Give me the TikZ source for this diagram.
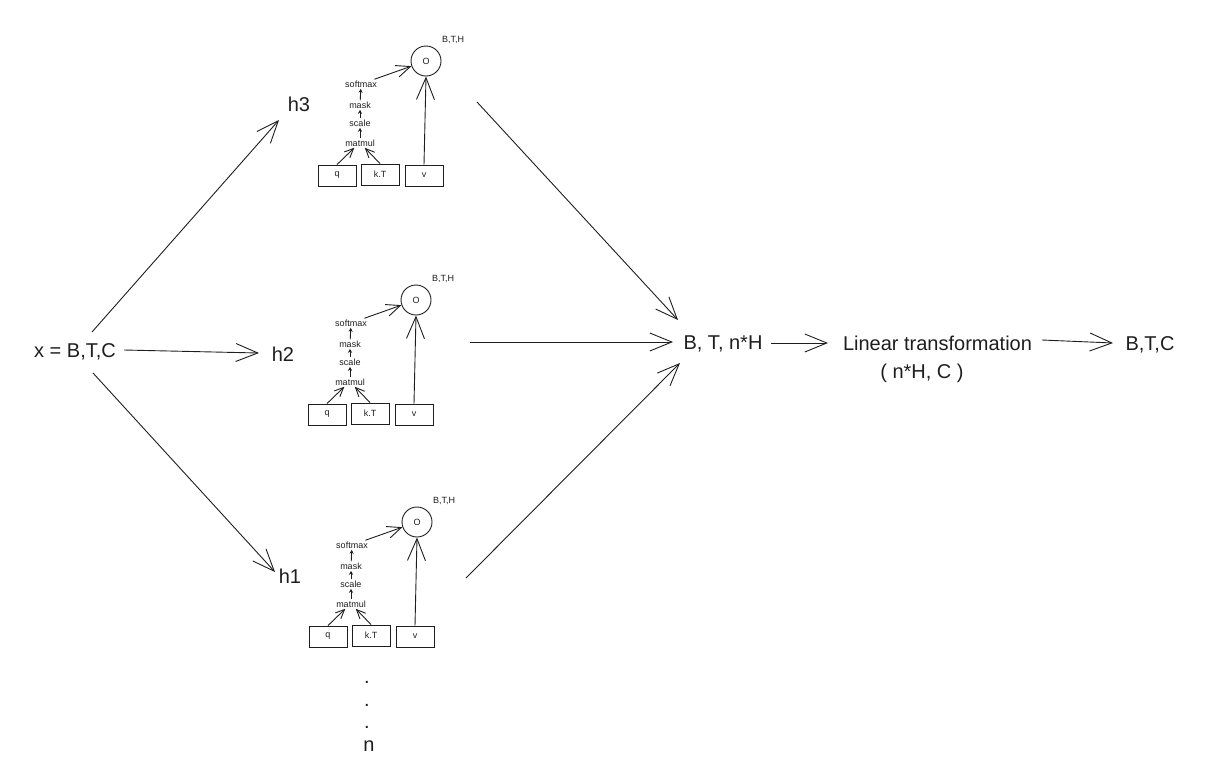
\documentclass[tikz,border=0pt]{standalone}
\usepackage{fontspec}
\setmainfont{Liberation Sans}
\usetikzlibrary{arrows.meta}
\definecolor{ink}{HTML}{1E1E1E}

\begin{document}
\begin{tikzpicture}[x=1pt,y=-1pt,line width=0.9pt,draw=ink,
    big/.style={font=\fontsize{20}{24}\selectfont,text=ink,anchor=base},
    small/.style={font=\fontsize{9}{11}\selectfont,text=ink,inner sep=1pt},
    box/.style={small,draw,minimum width=38pt,minimum height=21pt,inner sep=0pt},
    outc/.style={small,draw,circle,minimum size=30pt,inner sep=0pt},
    bigarr/.style={-{Straight Barb[length=22pt,width=18pt]}},
    midarr/.style={-{Straight Barb[length=14pt,width=12pt]}},
    smallarr/.style={-{Straight Barb[length=9pt,width=8pt]}},
    tinyarr/.style={-{Stealth[length=4pt,width=4pt]}}]
      \useasboundingbox (0,0) rectangle (1211,772);

      \node[big] (x) at (75,357.5) {x = B,T,C};
      \node[big] (h3) at (299,111) {h3};
      \node[big] (h2) at (283,361) {h2};
      \node[big] (h1) at (290,583) {h1};
      \node[big] (cat) at (723,349) {B, T, n*H};
      \node[big] (lin) at (937.5,350) {Linear transformation};
      \node[big] (lindim) at (922,378) {( n*H, C )};
      \node[big] (out) at (1150,350) {B,T,C};

      %% heads
      \begin{scope}
        \node[box] (q3) at (337,175.5) {q};
        \node[box] (k3) at (380,174.5) {k.T};
        \node[box] (v3) at (424,175.5) {v};
        \node[outc] (o3) at (426,61) {O};
        \node[small] (bth3) at (453,40) {B,T,H};
        \node[small] (mm3) at (360,143) {matmul};
        \node[small] (sc3) at (360,123) {scale};
        \node[small] (mk3) at (360,105) {mask};
        \node[small] (sm3) at (361,84) {softmax};
        \draw[smallarr] (q3.north) -- (mm3.-140);
        \draw[smallarr] (k3.north) -- (mm3.-45);
        \draw[tinyarr] (mm3) -- (sc3);
        \draw[tinyarr] (sc3) -- (mk3);
        \draw[tinyarr] (mk3) -- (sm3);
        \draw[midarr] (sm3) -- (o3);
        \draw[bigarr] (v3.north) -- (o3.south);
      \end{scope}

      \begin{scope}[shift={(-10,239)}]
        \node[box] (q2) at (337,175.5) {q};
        \node[box] (k2) at (380,174.5) {k.T};
        \node[box] (v2) at (424,175.5) {v};
        \node[outc] (o2) at (426,61) {O};
        \node[small] (bth2) at (453,40) {B,T,H};
        \node[small] (mm2) at (360,143) {matmul};
        \node[small] (sc2) at (360,123) {scale};
        \node[small] (mk2) at (360,105) {mask};
        \node[small] (sm2) at (361,84) {softmax};
        \draw[smallarr] (q2.north) -- (mm2.-140);
        \draw[smallarr] (k2.north) -- (mm2.-45);
        \draw[tinyarr] (mm2) -- (sc2);
        \draw[tinyarr] (sc2) -- (mk2);
        \draw[tinyarr] (mk2) -- (sm2);
        \draw[midarr] (sm2) -- (o2);
        \draw[bigarr] (v2.north) -- (o2.south);
      \end{scope}

      \begin{scope}[shift={(-9,461)}]
        \node[box] (q1) at (337,175.5) {q};
        \node[box] (k1) at (380,174.5) {k.T};
        \node[box] (v1) at (424,175.5) {v};
        \node[outc] (o1) at (426,61) {O};
        \node[small] (bth1) at (453,40) {B,T,H};
        \node[small] (mm1) at (360,143) {matmul};
        \node[small] (sc1) at (360,123) {scale};
        \node[small] (mk1) at (360,105) {mask};
        \node[small] (sm1) at (361,84) {softmax};
        \draw[smallarr] (q1.north) -- (mm1.-140);
        \draw[smallarr] (k1.north) -- (mm1.-45);
        \draw[tinyarr] (mm1) -- (sc1);
        \draw[tinyarr] (sc1) -- (mk1);
        \draw[tinyarr] (mk1) -- (sm1);
        \draw[midarr] (sm1) -- (o1);
        \draw[bigarr] (v1.north) -- (o1.south);
      \end{scope}

      \node[big] (dot1) at (367,683.5) {.};
      \node[big] (dot2) at (367,706.5) {.};
      \node[big] (dot3) at (367,728.5) {.};
      \node[big] (n) at (369,751) {n};

      %% arrow ends
      \coordinate (xa3) at (92,332);
      \coordinate (xb3) at (279,120);
      \coordinate (xa2) at (124,350);
      \coordinate (xb2) at (259,353);
      \coordinate (xa1) at (93,373);
      \coordinate (xb1) at (275,572);
      \coordinate (ha3) at (477,102);
      \coordinate (hb3) at (678,320);
      \coordinate (ha2) at (470,342);
      \coordinate (hb2) at (673,342);
      \coordinate (ha1) at (466,578);
      \coordinate (hb1) at (680,363);
      \coordinate (ca) at (771,343);
      \coordinate (cb) at (828,343);
      \coordinate (la) at (1042,340);
      \coordinate (lb) at (1113,343);

      \draw[bigarr] (xa3) -- (xb3);
      \draw[bigarr] (xa2) -- (xb2);
      \draw[bigarr] (xa1) -- (xb1);
      \draw[bigarr] (ha3) -- (hb3);
      \draw[bigarr] (ha2) -- (hb2);
      \draw[bigarr] (ha1) -- (hb1);
      \draw[bigarr] (ca) -- (cb);
      \draw[bigarr] (la) -- (lb);
    \end{tikzpicture}
\end{document}
